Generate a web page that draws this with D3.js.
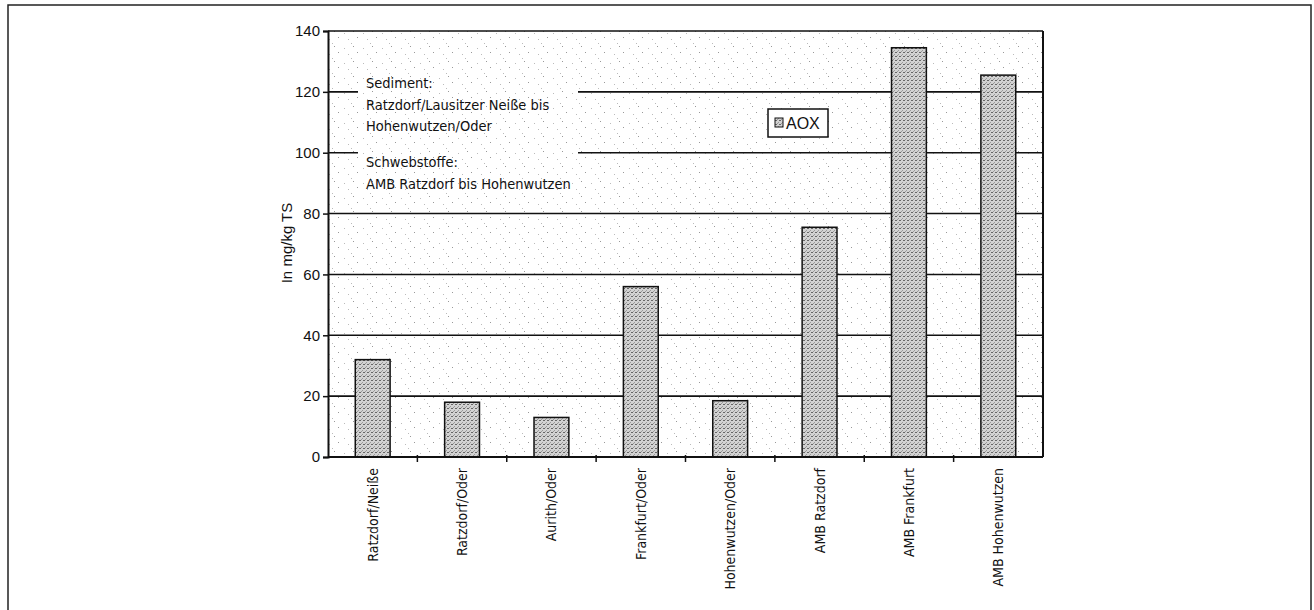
<!DOCTYPE html>
<html><head><meta charset="utf-8">
<script src="https://cdn.jsdelivr.net/npm/d3@7"></script>
<style>body{margin:0;background:#fff}svg{display:block}</style>
</head><body>
<svg id="c" width="1314" height="610"></svg>
<script>
const categories = ["Ratzdorf/Neiße","Ratzdorf/Oder","Aurith/Oder","Frankfurt/Oder","Hohenwutzen/Oder","AMB Ratzdorf","AMB Frankfurt","AMB Hohenwutzen"];
const aoxValues = [32, 18, 13, 56, 18.5, 75.5, 134.5, 125.5];
const yTicks = [0,20,40,60,80,100,120,140];
const yLabel = "In mg/kg TS";
const seriesName = "AOX";
const noteLines = ["Sediment:","Ratzdorf/Lausitzer Neiße bis","Hohenwutzen/Oder","","Schwebstoffe:","AMB Ratzdorf bis Hohenwutzen"];

const svg = d3.select("#c");
const L=328, R=1043, T=31, B=457;
const narrow = "'Liberation Sans Narrow','DejaVu Sans Condensed','Liberation Sans',Arial,sans-serif";
const sans = "'Liberation Sans',Arial,sans-serif";

// outer frame
svg.append("rect").attr("x",8).attr("y",5).attr("width",1303).attr("height",620)
  .attr("fill","none").attr("stroke","#222").attr("stroke-width",1.5);

const defs = svg.append("defs");
const bg = defs.append("pattern").attr("id","bgdots").attr("patternUnits","userSpaceOnUse").attr("width",19).attr("height",15);
bg.append("rect").attr("width",19).attr("height",15).attr("fill","#fff");
[[2,3],[11,1],[6,9],[15,7],[9,13]].forEach(([x,y],i)=>bg.append("rect").attr("x",x).attr("y",y).attr("width",1).attr("height",1).attr("fill",i%2?"#999":"#bbb"));
const bp = defs.append("pattern").attr("id","bardots").attr("patternUnits","userSpaceOnUse").attr("width",4).attr("height",4);
bp.append("rect").attr("width",4).attr("height",4).attr("fill","#d2d2d2");
[[0,0],[2,2],[3,0],[1,3]].forEach(([x,y],i)=>bp.append("rect").attr("x",x).attr("y",y).attr("width",1).attr("height",1).attr("fill",i%2?"#999":"#666"));

const x = d3.scaleBand().domain(categories).range([L,R]).paddingInner(0.61).paddingOuter(0.305);
const xb = d3.scaleBand().domain(categories).range([L,R]);
const y = d3.scaleLinear().domain([0,140]).range([B,T]);

// plot background
svg.append("rect").attr("x",L).attr("y",T).attr("width",R-L).attr("height",B-T).attr("fill","url(#bgdots)");

// gridlines
svg.append("g").selectAll("line").data(yTicks.filter(v=>v>0&&v<140)).join("line")
  .attr("x1",L).attr("x2",R).attr("y1",d=>y(d)).attr("y2",d=>y(d))
  .attr("stroke","#111").attr("stroke-width",1.6);

// note box (covers gridlines)
const boxX=358, boxW=220, boxY=y(131), boxH=y(83)-y(131);
svg.append("rect").attr("x",boxX).attr("y",boxY).attr("width",boxW).attr("height",boxH).attr("fill","url(#bgdots)");
const note = svg.append("text").attr("font-family",narrow).attr("font-size",14.5).attr("fill","#111");
let ly = 88;
noteLines.forEach((t,i)=>{
  if(t===""){ ly += 14; return; }
  note.append("tspan").attr("x",366).attr("y",ly).text(t);
  ly += 21.7;
});

// bars
svg.append("g").selectAll("rect").data(categories).join("rect")
  .attr("x",d=>x(d)).attr("width",x.bandwidth())
  .attr("y",(d,i)=>y(aoxValues[i])).attr("height",(d,i)=>B-y(aoxValues[i]))
  .attr("fill","url(#bardots)").attr("stroke","#111").attr("stroke-width",1.5);

// top and right border
svg.append("line").attr("x1",L).attr("x2",R).attr("y1",T).attr("y2",T).attr("stroke","#111").attr("stroke-width",1.6);
svg.append("line").attr("x1",R).attr("x2",R).attr("y1",T).attr("y2",B).attr("stroke","#111").attr("stroke-width",2);

// y axis
const ya = svg.append("g").attr("transform",`translate(${L},0)`)
  .call(d3.axisLeft(y).tickValues(yTicks).tickSize(5).tickPadding(3));
ya.select(".domain").attr("stroke","#111").attr("stroke-width",2);
ya.selectAll(".tick line").attr("stroke","#111").attr("stroke-width",1.5);
ya.selectAll("text").attr("font-family",sans).attr("font-size",15).attr("fill","#111");

// x axis
const xa = svg.append("g").attr("transform",`translate(0,${B})`);
xa.append("line").attr("x1",L).attr("x2",R).attr("stroke","#111").attr("stroke-width",2);
xa.selectAll("line.t").data(categories.slice(1)).join("line").attr("class","t")
  .attr("x1",d=>xb(d)).attr("x2",d=>xb(d)).attr("y1",-2).attr("y2",5)
  .attr("stroke","#111").attr("stroke-width",1.5);
xa.selectAll("text").data(categories).join("text")
  .attr("transform",d=>`translate(${x(d)+x.bandwidth()/2+5},11) rotate(-90)`)
  .attr("text-anchor","end").attr("font-family",narrow).attr("font-size",14).attr("fill","#111")
  .text(d=>d);

// y label
svg.append("text").attr("transform","translate(292,243) rotate(-90)").attr("text-anchor","middle")
  .attr("font-family",sans).attr("font-size",15).attr("fill","#111").text(yLabel);

// legend
const lg = svg.append("g");
lg.append("rect").attr("x",768).attr("y",109).attr("width",60).attr("height",28).attr("fill","#fff").attr("stroke","#111").attr("stroke-width",1.5);
lg.append("rect").attr("x",775).attr("y",118).attr("width",8).attr("height",9).attr("fill","url(#bardots)").attr("stroke","#111").attr("stroke-width",1);
lg.append("text").attr("x",786).attr("y",129).attr("font-family",sans).attr("font-size",16).attr("fill","#111").text(seriesName);
</script>
</body></html>
